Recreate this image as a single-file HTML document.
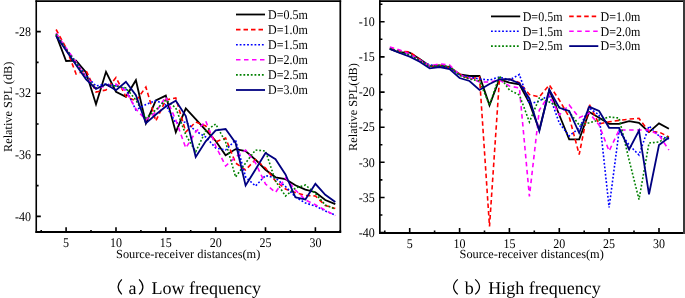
<!DOCTYPE html><html><head><meta charset="utf-8"><style>html,body{margin:0;padding:0;background:#fff;width:685px;height:298px;overflow:hidden}svg{display:block;will-change:transform}text{font-family:"Liberation Serif",serif;fill:#000;text-rendering:geometricPrecision}</style></head><body>
<svg width="685" height="298" viewBox="0 0 685 298">
<g>
<polyline points="56.1,35.0 66.1,61.0 76.1,60.6 86.1,72.5 96.0,104.2 106.0,71.8 116.0,91.8 125.9,96.8 135.9,80.2 145.9,123.3 155.8,100.4 165.8,95.6 175.8,132.2 185.8,108.5 195.7,119.1 205.7,130.2 215.7,141.0 225.6,155.2 235.6,149.1 245.6,151.1 255.5,159.7 265.5,169.7 275.5,177.3 285.5,179.2 295.4,185.3 305.4,189.6 315.4,192.2 325.3,200.0 335.3,204.2" fill="none" stroke="#000" stroke-width="1.8" stroke-linejoin="miter" stroke-miterlimit="4"/>
<polyline points="56.1,29.5 66.1,48.0 76.1,74.0 86.1,70.5 96.0,92.0 106.0,90.0 116.0,77.5 125.9,96.5 135.9,101.0 145.9,87.0 155.8,121.0 165.8,100.0 175.8,98.0 185.8,132.0 195.7,122.0 205.7,126.0 215.7,142.0 225.6,138.0 235.6,163.0 245.6,170.0 255.5,159.5 265.5,168.0 275.5,181.0 285.5,189.0 295.4,192.5 305.4,195.4 315.4,196.0 325.3,205.5 335.3,208.5" fill="none" stroke="#ff0000" stroke-width="1.6" stroke-dasharray="4.5 3" stroke-linejoin="miter" stroke-miterlimit="4"/>
<polyline points="56.1,34.0 66.1,49.0 76.1,62.0 86.1,76.0 96.0,86.0 106.0,84.0 116.0,86.0 125.9,89.0 135.9,110.0 145.9,104.5 155.8,100.5 165.8,105.0 175.8,123.0 185.8,122.0 195.7,131.0 205.7,137.0 215.7,148.0 225.6,150.0 235.6,140.0 245.6,177.0 255.5,186.0 265.5,175.5 275.5,178.0 285.5,186.5 295.4,197.0 305.4,203.0 315.4,206.0 325.3,211.0 335.3,215.0" fill="none" stroke="#0000ff" stroke-width="1.6" stroke-dasharray="1.8 1.9" stroke-linejoin="miter" stroke-miterlimit="4"/>
<polyline points="56.1,33.0 66.1,48.0 76.1,62.0 86.1,77.0 96.0,88.5 106.0,86.0 116.0,84.0 125.9,91.0 135.9,109.0 145.9,120.0 155.8,112.0 165.8,97.0 175.8,120.0 185.8,148.0 195.7,132.0 205.7,121.0 215.7,146.0 225.6,166.0 235.6,157.0 245.6,150.0 255.5,163.0 265.5,184.0 275.5,192.5 285.5,178.0 295.4,190.0 305.4,200.0 315.4,204.8 325.3,210.2 335.3,215.6" fill="none" stroke="#ff00ff" stroke-width="1.6" stroke-dasharray="4.5 3.5" stroke-linejoin="miter" stroke-miterlimit="4"/>
<polyline points="56.1,34.0 66.1,49.0 76.1,63.0 86.1,78.0 96.0,88.0 106.0,85.0 116.0,86.0 125.9,88.0 135.9,100.0 145.9,118.0 155.8,110.0 165.8,100.0 175.8,108.0 185.8,135.0 195.7,151.7 205.7,131.0 215.7,124.0 225.6,142.0 235.6,177.0 245.6,163.0 255.5,150.0 265.5,151.0 275.5,181.0 285.5,196.0 295.4,188.0 305.4,185.0 315.4,193.4 325.3,205.0 335.3,209.0" fill="none" stroke="#008000" stroke-width="1.6" stroke-dasharray="1.8 1.9" stroke-linejoin="miter" stroke-miterlimit="4"/>
<polyline points="56.1,36.0 66.1,50.5 76.1,65.0 86.1,79.5 96.0,89.0 106.0,84.2 116.0,90.2 125.9,81.8 135.9,95.3 145.9,123.3 155.8,114.5 165.8,106.5 175.8,100.8 185.8,116.0 195.7,157.0 205.7,141.3 215.7,130.3 225.6,129.0 235.6,143.0 245.6,185.5 255.5,169.5 265.5,153.1 275.5,159.2 285.5,174.5 295.4,197.3 305.4,199.5 315.4,183.8 325.3,194.8 335.3,202.1" fill="none" stroke="#000080" stroke-width="1.8" stroke-linejoin="miter" stroke-miterlimit="4"/>
</g>
<g>
<polyline points="389.8,49.0 399.7,52.5 409.7,52.6 419.7,59.0 429.7,66.0 439.6,65.5 449.6,67.0 459.6,74.3 469.5,76.0 479.5,76.0 489.5,105.3 499.4,79.3 509.4,82.6 519.4,84.3 529.4,103.0 539.3,130.0 549.3,90.0 559.3,115.0 569.2,139.4 579.2,139.4 589.2,112.0 599.1,117.8 609.1,123.8 619.1,123.8 629.1,121.1 639.0,122.8 649.0,132.1 659.0,123.4 668.9,128.8" fill="none" stroke="#000" stroke-width="1.8" stroke-linejoin="miter" stroke-miterlimit="4"/>
<polyline points="389.8,48.0 399.7,51.0 409.7,52.0 419.7,59.5 429.7,66.0 439.6,65.5 449.6,67.5 459.6,74.0 469.5,79.0 479.5,77.0 489.5,226.5 499.4,80.0 509.4,79.0 519.4,82.6 529.4,94.5 539.3,97.0 549.3,85.0 559.3,100.0 569.2,117.0 579.2,154.5 589.2,104.3 599.1,124.0 609.1,121.8 619.1,120.4 629.1,119.1 639.0,118.4 649.0,131.7 659.0,132.0 668.9,137.0" fill="none" stroke="#ff0000" stroke-width="1.6" stroke-dasharray="4.5 3" stroke-linejoin="miter" stroke-miterlimit="4"/>
<polyline points="389.8,48.5 399.7,52.0 409.7,55.0 419.7,60.0 429.7,65.0 439.6,66.0 449.6,67.5 459.6,75.0 469.5,77.0 479.5,79.0 489.5,80.0 499.4,77.0 509.4,80.0 519.4,74.5 529.4,104.0 539.3,101.0 549.3,95.0 559.3,123.0 569.2,136.0 579.2,128.0 589.2,108.0 599.1,115.0 609.1,207.5 619.1,131.0 629.1,145.0 639.0,155.0 649.0,126.0 659.0,136.0 668.9,139.0" fill="none" stroke="#0000ff" stroke-width="1.6" stroke-dasharray="1.8 1.9" stroke-linejoin="miter" stroke-miterlimit="4"/>
<polyline points="389.8,47.0 399.7,50.0 409.7,54.0 419.7,60.0 429.7,66.0 439.6,64.0 449.6,65.0 459.6,75.0 469.5,78.0 479.5,82.0 489.5,82.0 499.4,80.0 509.4,86.0 519.4,88.0 529.4,196.4 539.3,110.0 549.3,95.0 559.3,115.0 569.2,105.0 579.2,117.7 589.2,113.0 599.1,125.0 609.1,151.0 619.1,130.0 629.1,130.0 639.0,130.0 649.0,130.0 659.0,135.0 668.9,150.0" fill="none" stroke="#ff00ff" stroke-width="1.6" stroke-dasharray="4.5 3.5" stroke-linejoin="miter" stroke-miterlimit="4"/>
<polyline points="389.8,48.5 399.7,52.0 409.7,55.0 419.7,60.5 429.7,66.5 439.6,65.5 449.6,66.5 459.6,75.5 469.5,79.0 479.5,81.0 489.5,105.0 499.4,76.0 509.4,90.0 519.4,95.0 529.4,122.0 539.3,98.0 549.3,102.0 559.3,107.0 569.2,112.0 579.2,125.0 589.2,122.8 599.1,120.0 609.1,117.0 619.1,118.0 629.1,160.0 639.0,199.5 649.0,143.0 659.0,142.0 668.9,136.0" fill="none" stroke="#008000" stroke-width="1.6" stroke-dasharray="1.8 1.9" stroke-linejoin="miter" stroke-miterlimit="4"/>
<polyline points="389.8,49.0 399.7,53.0 409.7,56.6 419.7,61.7 429.7,68.3 439.6,67.0 449.6,69.0 459.6,78.0 469.5,81.0 479.5,90.0 489.5,84.0 499.4,79.3 509.4,79.2 519.4,83.4 529.4,98.5 539.3,131.0 549.3,89.8 559.3,107.8 569.2,111.0 579.2,133.0 589.2,106.8 599.1,111.0 609.1,127.8 619.1,127.8 629.1,149.5 639.0,130.5 649.0,194.3 659.0,145.0 668.9,137.5" fill="none" stroke="#000080" stroke-width="1.8" stroke-linejoin="miter" stroke-miterlimit="4"/>
</g>
<line x1="35.45" y1="1.15" x2="341.15" y2="1.15" stroke="#000" stroke-width="1.7"/>
<line x1="36.25" y1="0.3" x2="36.25" y2="232.9" stroke="#000" stroke-width="1.6"/>
<line x1="35.45" y1="231.95" x2="341.15" y2="231.95" stroke="#000" stroke-width="1.9"/>
<line x1="340.3" y1="0.3" x2="340.3" y2="232.9" stroke="#000" stroke-width="1.7"/>
<line x1="379" y1="1.15" x2="685" y2="1.15" stroke="#000" stroke-width="1.7"/>
<line x1="379.85" y1="0.3" x2="379.85" y2="233.9" stroke="#000" stroke-width="1.7"/>
<line x1="379" y1="232.9" x2="685" y2="232.9" stroke="#000" stroke-width="2.0"/>
<line x1="684" y1="0.3" x2="684" y2="233.9" stroke="#3a3a3a" stroke-width="2.0"/>
<path d="M66.1,231.8 V227.3 M116.0,231.8 V227.3 M165.8,231.8 V227.3 M215.7,231.8 V227.3 M265.5,231.8 V227.3 M315.4,231.8 V227.3 M41.2,231.8 V229.9 M91.0,231.8 V229.9 M140.9,231.8 V229.9 M190.7,231.8 V229.9 M240.6,231.8 V229.9 M290.4,231.8 V229.9 M340.3,231.8 V229.9 M36.2,31.6 H40.8 M36.2,93.2 H40.8 M36.2,154.8 H40.8 M36.2,216.4 H40.8 M36.2,62.4 H38.6 M36.2,124.0 H38.6 M36.2,185.6 H38.6 M409.7,232.6 V228.1 M459.6,232.6 V228.1 M509.4,232.6 V228.1 M559.3,232.6 V228.1 M609.1,232.6 V228.1 M659.0,232.6 V228.1 M384.8,232.6 V230.6 M434.6,232.6 V230.6 M484.5,232.6 V230.6 M534.3,232.6 V230.6 M584.2,232.6 V230.6 M634.0,232.6 V230.6 M380,21.8 H384.6 M380,56.9 H384.6 M380,92.1 H384.6 M380,127.2 H384.6 M380,162.3 H384.6 M380,197.5 H384.6 M380,232.6 H384.6 M380,4.2 H382.4 M380,39.3 H382.4 M380,74.5 H382.4 M380,109.6 H382.4 M380,144.8 H382.4 M380,179.9 H382.4 M380,215.0 H382.4" stroke="#000" stroke-width="1.6" fill="none"/>
<text transform="translate(31,35.76) scale(1,1.1)" font-size="12" text-anchor="end">-28</text>
<text transform="translate(31,97.37) scale(1,1.1)" font-size="12" text-anchor="end">-32</text>
<text transform="translate(31,158.98) scale(1,1.1)" font-size="12" text-anchor="end">-36</text>
<text transform="translate(31,220.59) scale(1,1.1)" font-size="12" text-anchor="end">-40</text>
<text transform="translate(66.1,246.9) scale(1,1.1)" font-size="12" text-anchor="middle">5</text>
<text transform="translate(116.0,246.9) scale(1,1.1)" font-size="12" text-anchor="middle">10</text>
<text transform="translate(165.8,246.9) scale(1,1.1)" font-size="12" text-anchor="middle">15</text>
<text transform="translate(215.7,246.9) scale(1,1.1)" font-size="12" text-anchor="middle">20</text>
<text transform="translate(265.5,246.9) scale(1,1.1)" font-size="12" text-anchor="middle">25</text>
<text transform="translate(315.4,246.9) scale(1,1.1)" font-size="12" text-anchor="middle">30</text>
<text transform="translate(374.8,25.98) scale(1,1.1)" font-size="12" text-anchor="end">-10</text>
<text transform="translate(374.8,61.12) scale(1,1.1)" font-size="12" text-anchor="end">-15</text>
<text transform="translate(374.8,96.25) scale(1,1.1)" font-size="12" text-anchor="end">-20</text>
<text transform="translate(374.8,131.39) scale(1,1.1)" font-size="12" text-anchor="end">-25</text>
<text transform="translate(374.8,166.52) scale(1,1.1)" font-size="12" text-anchor="end">-30</text>
<text transform="translate(374.8,201.66) scale(1,1.1)" font-size="12" text-anchor="end">-35</text>
<text transform="translate(374.8,236.79) scale(1,1.1)" font-size="12" text-anchor="end">-40</text>
<text transform="translate(409.7,247.5) scale(1,1.1)" font-size="12" text-anchor="middle">5</text>
<text transform="translate(459.6,247.5) scale(1,1.1)" font-size="12" text-anchor="middle">10</text>
<text transform="translate(509.4,247.5) scale(1,1.1)" font-size="12" text-anchor="middle">15</text>
<text transform="translate(559.3,247.5) scale(1,1.1)" font-size="12" text-anchor="middle">20</text>
<text transform="translate(609.1,247.5) scale(1,1.1)" font-size="12" text-anchor="middle">25</text>
<text transform="translate(659.0,247.5) scale(1,1.1)" font-size="12" text-anchor="middle">30</text>
<text x="188.2" y="257.8" font-size="12.35" text-anchor="middle">Source-receiver distances(m)</text>
<text x="531.7" y="258.3" font-size="12.35" text-anchor="middle">Source-receiver distances(m)</text>
<text transform="translate(12,106.8) rotate(-90)" font-size="12.3" text-anchor="middle">Relative SPL (dB)</text>
<text transform="translate(356.5,107) rotate(-90)" font-size="12.3" text-anchor="middle">Relative SPL(dB)</text>
<line x1="236" y1="14.5" x2="265" y2="14.5" stroke="#000" stroke-width="1.8"/>
<text transform="translate(268.0,18.80) scale(1,1.1)" font-size="12">D=0.5m</text>
<line x1="236" y1="29.6" x2="265" y2="29.6" stroke="#ff0000" stroke-width="1.6" stroke-dasharray="4.5 3"/>
<text transform="translate(268.0,33.90) scale(1,1.1)" font-size="12">D=1.0m</text>
<line x1="236" y1="44.7" x2="265" y2="44.7" stroke="#0000ff" stroke-width="1.6" stroke-dasharray="1.8 1.9"/>
<text transform="translate(268.0,49.00) scale(1,1.1)" font-size="12">D=1.5m</text>
<line x1="236" y1="59.8" x2="265" y2="59.8" stroke="#ff00ff" stroke-width="1.6" stroke-dasharray="4.5 3.5"/>
<text transform="translate(268.0,64.10) scale(1,1.1)" font-size="12">D=2.0m</text>
<line x1="236" y1="74.9" x2="265" y2="74.9" stroke="#008000" stroke-width="1.6" stroke-dasharray="1.8 1.9"/>
<text transform="translate(268.0,79.20) scale(1,1.1)" font-size="12">D=2.5m</text>
<line x1="236" y1="90.0" x2="265" y2="90.0" stroke="#000080" stroke-width="1.8"/>
<text transform="translate(268.0,94.30) scale(1,1.1)" font-size="12">D=3.0m</text>
<line x1="491" y1="16.4" x2="520.2" y2="16.4" stroke="#000" stroke-width="1.8"/>
<text transform="translate(522.7,20.70) scale(1,1.1)" font-size="12">D=0.5m</text>
<line x1="569.2" y1="16.4" x2="598.3" y2="16.4" stroke="#ff0000" stroke-width="1.6" stroke-dasharray="4.5 3"/>
<text transform="translate(600.5,20.70) scale(1,1.1)" font-size="12">D=1.0m</text>
<line x1="491" y1="31.3" x2="520.2" y2="31.3" stroke="#0000ff" stroke-width="1.6" stroke-dasharray="1.8 1.9"/>
<text transform="translate(522.7,35.60) scale(1,1.1)" font-size="12">D=1.5m</text>
<line x1="569.2" y1="31.3" x2="598.3" y2="31.3" stroke="#ff00ff" stroke-width="1.6" stroke-dasharray="4.5 3.5"/>
<text transform="translate(600.5,35.60) scale(1,1.1)" font-size="12">D=2.0m</text>
<line x1="491" y1="46.1" x2="520.2" y2="46.1" stroke="#008000" stroke-width="1.6" stroke-dasharray="1.8 1.9"/>
<text transform="translate(522.7,50.40) scale(1,1.1)" font-size="12">D=2.5m</text>
<line x1="569.2" y1="46.1" x2="598.3" y2="46.1" stroke="#000080" stroke-width="1.8"/>
<text transform="translate(600.5,50.40) scale(1,1.1)" font-size="12">D=3.0m</text>
<path d="M121.8,279.4 Q114.40,286.9 121.8,294.4" fill="none" stroke="#000" stroke-width="1.25"/>
<path d="M139.1,279.4 Q146.70,286.9 139.1,294.4" fill="none" stroke="#000" stroke-width="1.25"/>
<text x="128.5" y="294" font-size="18">a</text>
<text x="151.6" y="294" font-size="18">Low frequency</text>
<path d="M457.8,279.4 Q449.40,286.9 457.8,294.4" fill="none" stroke="#000" stroke-width="1.25"/>
<path d="M475.2,279.4 Q483.80,286.9 475.2,294.4" fill="none" stroke="#000" stroke-width="1.25"/>
<text x="464.7" y="294" font-size="18">b</text>
<text x="488.2" y="294" font-size="18">High frequency</text>
</svg></body></html>
